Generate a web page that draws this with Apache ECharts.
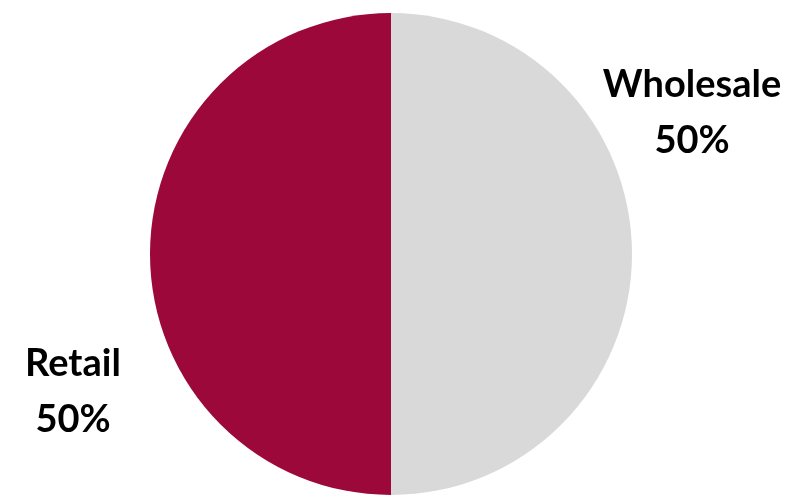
<!DOCTYPE html>
<html>
<head>
<meta charset="utf-8">
<script src="https://cdn.jsdelivr.net/npm/echarts@6/dist/echarts.min.js"></script>
<style>
  html, body { margin: 0; padding: 0; background: #fff; }
  #chart { width: 796px; height: 496px; }
</style>
</head>
<body>
<div id="chart"></div>
<script>
// segments, clockwise from 12 o'clock
const categories = ['Wholesale', 'Retail'];
const shares = [50, 50];
const colors = ['#D9D9D9', '#9B0839'];
// label anchor (centre of text block) per segment
const labelPos = [[692, 113], [73, 392]];

const chart = echarts.init(document.getElementById('chart'));

chart.setOption({
    animation: false,
    series: [
        {
            type: 'pie',
            center: [391, 254],
            radius: 241,
            startAngle: 90,
            clockwise: true,
            data: categories.map((name, i) => ({
                name: name,
                value: shares[i],
                itemStyle: { color: colors[i] }
            })),
            itemStyle: { borderWidth: 0 },
            label: {
                show: true,
                position: 'outside',
                formatter: '{b}\n{d}%',
                fontFamily: 'Lato',
                fontWeight: 'bold',
                fontSize: 38,
                lineHeight: 56,
                color: '#000',
                align: 'center',
                overflow: 'none'
            },
            labelLine: { show: false },
            labelLayout: function (params) {
                const p = labelPos[params.dataIndex];
                return { x: p[0], y: p[1], align: 'center', verticalAlign: 'middle' };
            }
        }
    ]
});
</script>
</body>
</html>
